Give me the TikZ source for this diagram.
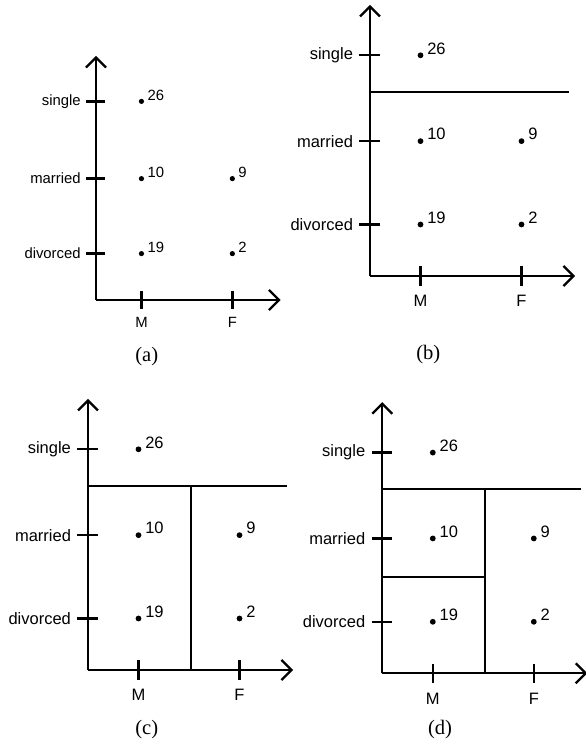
\documentclass[tikz,border=0pt]{standalone}
\usepackage{fontspec}
\setmainfont{Liberation Serif}
\setsansfont{Liberation Sans}
\usetikzlibrary{arrows.meta}

\tikzset{
	axis/.style={line width=1.15pt, -{Straight Barb[length=5pt,width=10pt]}},
	tick/.style={line width=1.15pt},
	split/.style={line width=1pt},
	cat/.style={font=\sffamily\fontsize{8.25}{10}\selectfont, inner sep=0pt},
	val/.style={font=\sffamily\fontsize{8.25}{10}\selectfont, inner sep=0pt, anchor=base west, xshift=3.2pt, yshift=0.6pt},
	tag/.style={font=\fontsize{10.3}{12}\selectfont, inner sep=0pt},
}

% columns (sex) and rows (status)
\def\colM{1}
\def\colF{3}
\def\rowD{1.02}
\def\rowMa{2.67}
\def\rowS{4.37}

% axes, ticks, names and counts
\newcommand{\axesgrid}{%
	\draw[axis] (0,0) -- (0,5.37);
	\draw[axis] (0,0) -- (4.06,0);
	
	\draw[tick] (-0.21,\rowS) -- (0.2,\rowS);
	\draw[tick] (-0.21,\rowMa) -- (0.2,\rowMa);
	\draw[tick] (-0.21,\rowD) -- (0.2,\rowD);
	\draw[tick] (\colM,-0.19) -- (\colM,0.19);
	\draw[tick] (\colF,-0.19) -- (\colF,0.19);
	
	\node[cat, anchor=east] (single) at (-0.33,\rowS) {single};
	\node[cat, anchor=east] (married) at (-0.33,\rowMa) {married};
	\node[cat, anchor=east] (divorced) at (-0.33,\rowD) {divorced};
	\node[cat, anchor=north] (male) at (\colM,-0.38) {M};
	\node[cat, anchor=north] (female) at (\colF,-0.38) {F};
	
	\fill (\colM,\rowS) circle (1.45pt);
	\node[val] (ms) at (\colM,\rowS) {26};
	\fill (\colM,\rowMa) circle (1.45pt);
	\node[val] (mm) at (\colM,\rowMa) {10};
	\fill (\colM,\rowD) circle (1.45pt);
	\node[val] (md) at (\colM,\rowD) {19};
	\fill (\colF,\rowMa) circle (1.45pt);
	\node[val] (fm) at (\colF,\rowMa) {9};
	\fill (\colF,\rowD) circle (1.45pt);
	\node[val] (fd) at (\colF,\rowD) {2};
}

\begin{document}
\begin{tikzpicture}[x=0.5pt, y=0.5pt]
	\useasboundingbox (0,0) rectangle (585,747);
	
	%%%%% (a) no split %%%%%
	\begin{scope}[shift={(96,447)}, scale=0.9, transform shape, x=25.25pt, y=25.25pt, name prefix=a-]
		\axesgrid
	\end{scope}
	
	%%%%% (b) single vs rest %%%%%
	\begin{scope}[shift={(370,471)}, x=25.25pt, y=25.25pt, name prefix=b-]
		\axesgrid
		\draw[split] (0,3.64) -- (3.94,3.64);
	\end{scope}
	
	%%%%% (c) then by sex %%%%%
	\begin{scope}[shift={(88,77)}, x=25.25pt, y=25.25pt, name prefix=c-]
		\axesgrid
		\draw[split] (0,3.64) -- (3.94,3.64);
		\draw[split] (2.04,3.64) -- (2.04,0);
	\end{scope}
	
	%%%%% (d) then married vs divorced %%%%%
	\begin{scope}[shift={(382.3,73.7)}, x=25.25pt, y=25.25pt, name prefix=d-]
		\axesgrid
		\draw[split] (0,3.64) -- (3.94,3.64);
		\draw[split] (2.04,3.64) -- (2.04,0);
		\draw[split] (0,1.91) -- (2.04,1.91);
	\end{scope}
	
	\node[tag] (capa) at (146.7,390) {(a)};
	\node[tag] (capb) at (428.3,392) {(b)};
	\node[tag] (capc) at (146.7,17) {(c)};
	\node[tag] (capd) at (440,17) {(d)};
\end{tikzpicture}
\end{document}
